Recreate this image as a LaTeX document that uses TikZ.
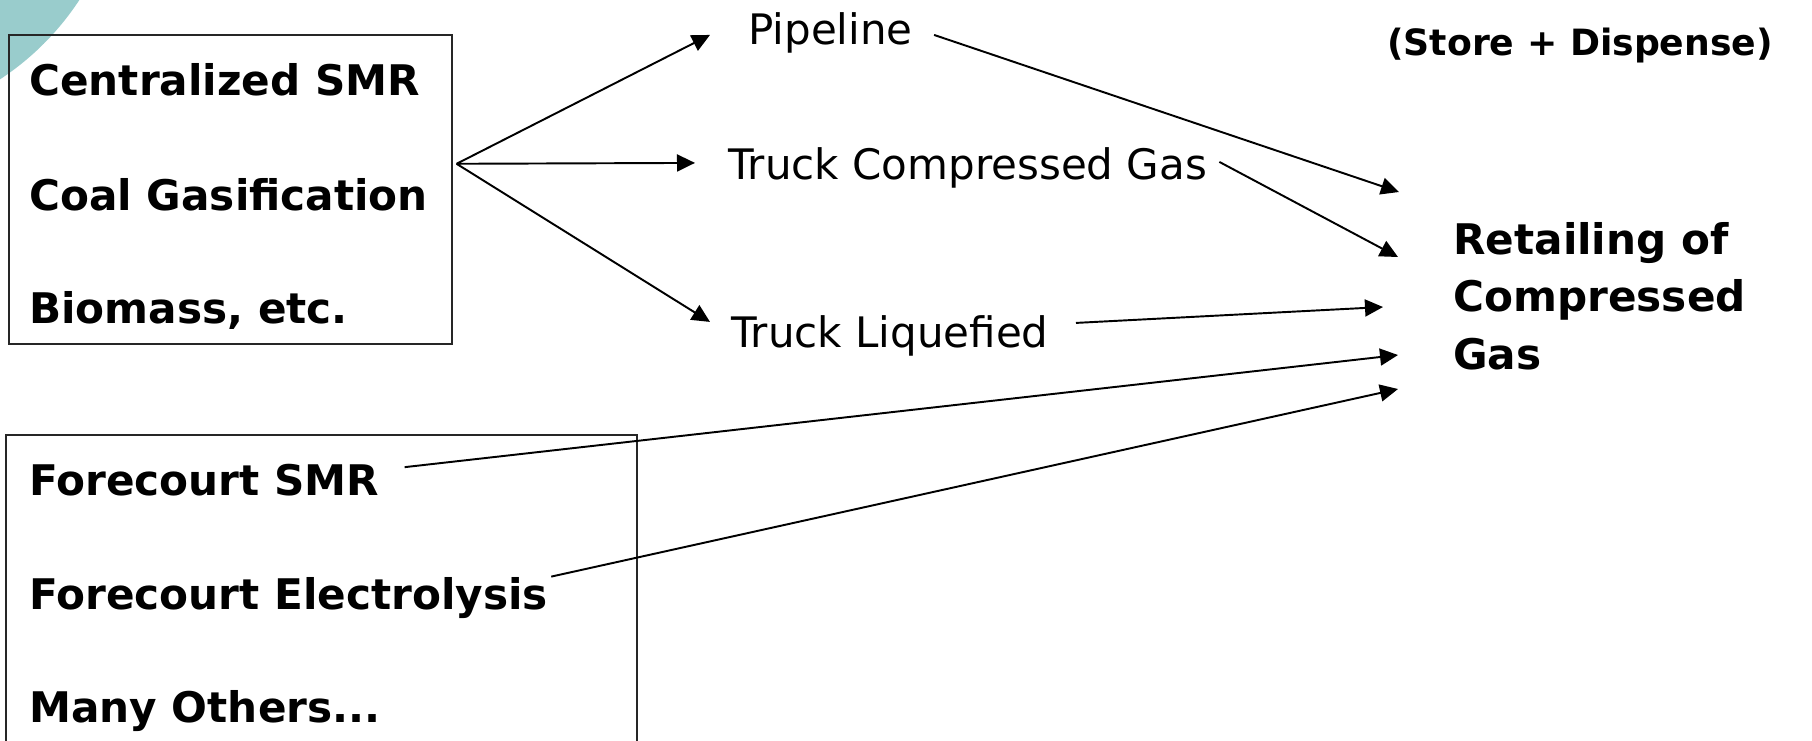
\documentclass[tikz,border=0pt]{standalone}
\usepackage{fontspec}
\setmainfont{DejaVu Sans}
\usetikzlibrary{arrows.meta}
\definecolor{cornerteal}{RGB}{153,204,204}

\begin{document}
\begin{tikzpicture}[
    flow/.style={line width=1.1pt, -{Triangle[length=0.36cm, width=0.34cm]}},
    group/.style={draw=black!85, line width=0.9pt, anchor=north west, inner sep=0pt},
    source/.style={anchor=base west, inner sep=0pt, font=\fontsize{24}{29}\selectfont\bfseries},
    route/.style={anchor=base west, inner sep=0pt, font=\fontsize{23.9}{28}\selectfont}
]
    \useasboundingbox (0,0) rectangle (36.24,-14.8);

    % Corner decoration
    \begin{scope}
        \clip (0,0) rectangle (36.24,-14.8);
        \fill[cornerteal] (-3,3) circle (5.48);
    \end{scope}

    % Boxes round the production options
    \node[group, minimum width=8.86cm, minimum height=6.18cm] (central) at (0.16,-0.68) {};
    \node[group, minimum width=12.62cm, minimum height=6.4cm] (forecourt) at (0.1,-8.68) {};

    % Central production
    \node[source] (smr) at (0.58,-1.90) {Centralized SMR};
    \node[source] (coal) at (0.58,-4.20) {Coal Gasification};
    \node[source] (bio) at (0.58,-6.46) {Biomass, etc.};

    % Forecourt production
    \node[source] (fsmr) at (0.58,-9.90) {Forecourt SMR};
    \node[source] (felec) at (0.58,-12.18) {Forecourt Electrolysis};
    \node[source] (many) at (0.58,-14.44) {Many Others...};

    % Delivery routes
    \node[route] (pipe) at (14.96,-0.88) {Pipeline};
    \node[route] (tcg) at (14.56,-3.58) {Truck Compressed Gas};
    \node[route] (tliq) at (14.62,-6.94) {Truck Liquefied};

    % Retail station
    \node[anchor=base west, inner sep=0pt, font=\fontsize{20.6}{24}\selectfont\bfseries] (store) at (27.74,-1.10) {(Store + Dispense)};
    \node[anchor=north west, inner sep=0pt, align=left, font=\fontsize{24}{32.7}\selectfont\bfseries] (retail) at (29.06,-4.44) {Retailing of\\Compressed\\Gas};

    % Arrow ends
    \coordinate (fan) at ([xshift=0.08cm, yshift=0.51cm]central.east);
    \coordinate (in1) at (27.98,-3.84);
    \coordinate (in2) at (27.96,-5.14);
    \coordinate (in3) at (27.66,-6.14);
    \coordinate (in4) at (27.96,-7.10);
    \coordinate (in5) at (27.96,-7.78);

    % From central production to the routes
    \draw[flow] (fan) -- ([xshift=-0.76cm, yshift=-0.05cm]pipe.west);
    \draw[flow] (fan) -- ([xshift=-0.66cm, yshift=0.09cm]tcg.west);
    \draw[flow] (fan) -- ([xshift=-0.42cm, yshift=0.27cm]tliq.west);

    % From the routes to retail
    \draw[flow] ([xshift=0.42cm, yshift=-0.05cm]pipe.east) -- (in1);
    \draw[flow] ([xshift=0.24cm, yshift=0.11cm]tcg.east) -- (in2);
    \draw[flow] ([xshift=0.54cm, yshift=0.25cm]tliq.east) -- (in3);

    % From forecourt production to retail
    \draw[flow] ([xshift=0.5cm, yshift=0.25cm]fsmr.east) -- (in4);
    \draw[flow] ([xshift=0.06cm]felec.north east) -- (in5);
\end{tikzpicture}
\end{document}
